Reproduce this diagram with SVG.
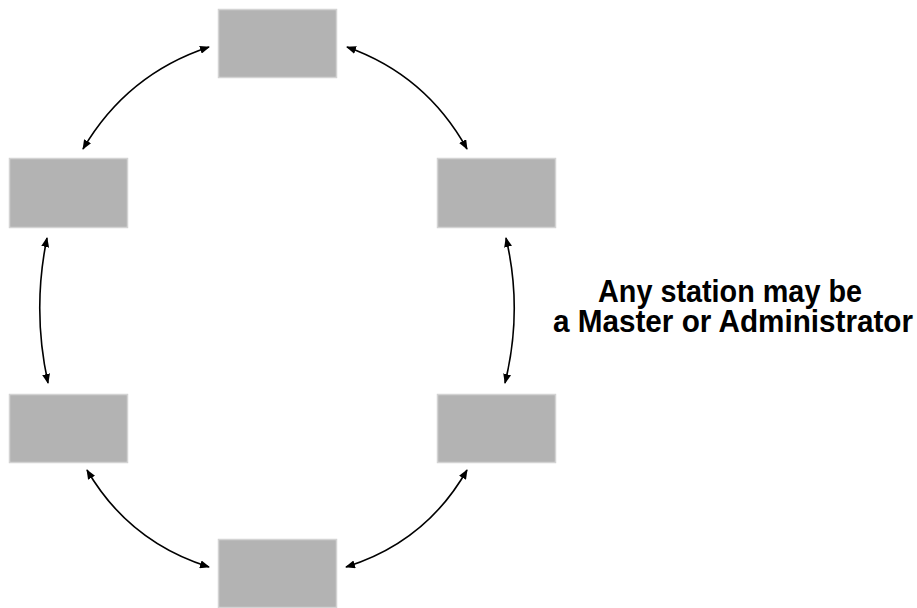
<svg xmlns="http://www.w3.org/2000/svg" width="917" height="608" viewBox="0 0 917 608">
<style>
.st{fill:#b3b3b3;stroke:#d3d3d3;stroke-width:1.5}
.c{fill:none;stroke:#000;stroke-width:1.6;marker-start:url(#ah);marker-end:url(#ah)}
.t{font-family:"Liberation Sans",Arial,sans-serif;font-weight:bold;font-size:32px;fill:#000}
</style>
<defs>
<marker id="ah" viewBox="0 0 10 8" refX="9" refY="4" markerWidth="10" markerHeight="8" markerUnits="userSpaceOnUse" orient="auto-start-reverse">
<path d="M0,0 L10,4 L0,8 Z" fill="#000"/>
</marker>
</defs>
<rect width="917" height="608" fill="#fff"/>
<g id="station-top"><rect class="st" x="218.5" y="9.5" width="118" height="68"/></g>
<g id="station-upper-left"><rect class="st" x="9.5" y="158.5" width="118" height="69"/></g>
<g id="station-upper-right"><rect class="st" x="437.5" y="158.5" width="118" height="69"/></g>
<g id="station-lower-left"><rect class="st" x="9.5" y="394.5" width="118" height="68"/></g>
<g id="station-lower-right"><rect class="st" x="437.5" y="394.5" width="118" height="68"/></g>
<g id="station-bottom"><rect class="st" x="218.5" y="539.5" width="118" height="68"/></g>
<g id="connectors">
<path class="c" d="M83,149 Q127,74 209,47"/>
<path class="c" d="M347,47 Q426,75 467,149"/>
<path class="c" d="M506,238 Q523,310 505,383"/>
<path class="c" d="M47,238 Q32,310 48,383"/>
<path class="c" d="M87,470 Q129,542 209,567"/>
<path class="c" d="M467,470 Q426,542 346,567"/>
</g>
<g id="label">
<text class="t" x="598" y="301.5" textLength="264" lengthAdjust="spacingAndGlyphs">Any station may be</text>
<text class="t" x="553" y="331.5" textLength="360" lengthAdjust="spacingAndGlyphs">a Master or Administrator</text>
</g>
</svg>
